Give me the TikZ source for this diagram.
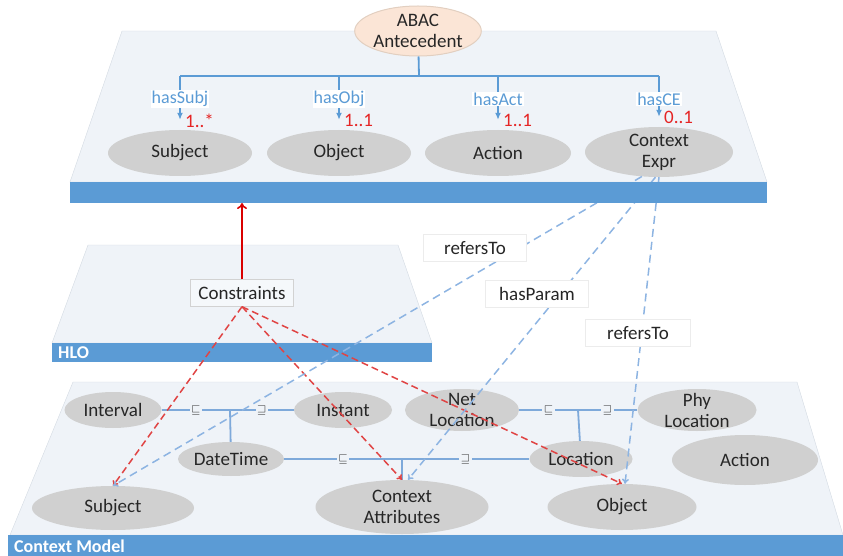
\documentclass[tikz,border=0pt]{standalone}
\usepackage{fontspec}
\setmainfont{Carlito}
\usetikzlibrary{arrows,arrows.meta,positioning,shapes,calc}
\definecolor{platfill}{HTML}{EFF3F8}
\definecolor{platline}{HTML}{D3DAE2}
\definecolor{barblue}{HTML}{5B9BD5}
\definecolor{ellgray}{HTML}{D0D0D0}
\definecolor{abacfill}{HTML}{FBE5D6}
\definecolor{abacline}{HTML}{E2CFC0}
\definecolor{txt}{HTML}{262626}
\definecolor{relblue}{HTML}{7EA9DA}
\definecolor{dashblue}{HTML}{8DB4E2}
\definecolor{multred}{HTML}{E52424}
\definecolor{dashred}{HTML}{E04444}

\begin{document}
\begin{tikzpicture}[x=1pt,y=-1pt,
main node/.style={ellipse,fill=ellgray,inner sep=0pt,text=txt,align=center,font=\fontsize{19}{21}\selectfont},
abac node/.style={main node,fill=abacfill,draw=abacline,line width=1pt},
box node/.style={rectangle,fill=white,draw=gray!15,inner sep=0pt,minimum width=103pt,minimum height=27pt,text=txt,font=\fontsize{19}{21}\selectfont},
has label/.style={fill=white,inner sep=1pt,text=barblue,font=\fontsize{18}{20}\selectfont},
mult label/.style={inner sep=0pt,text=multred,font=\fontsize{19}{20}\selectfont},
bar label/.style={inner sep=0pt,text=white,font=\fontsize{18}{20}\selectfont\bfseries},
sym node/.style={fill=platfill,inner sep=1.5pt,text=txt,font=\fontsize{12}{12}\selectfont},
tree line/.style={draw=barblue,line width=1.8pt},
tree arrow/.style={tree line,-{Latex[length=7pt,width=6pt]},shorten >=10pt},
rel line/.style={draw=relblue,line width=1.8pt},
red dash/.style={draw=dashred,line width=1.5pt,dash pattern=on 7pt off 4pt,-{To[length=5pt,width=7pt]}},
blue dash/.style={draw=dashblue,line width=1.5pt,dash pattern=on 8pt off 5pt,-{To[length=5pt,width=7pt]}}]
\useasboundingbox (0,0) rectangle (843,556);
% platforms
\filldraw[fill=platfill,draw=platline] (122,31) -- (716,31) -- (767,182) -- (70,182) -- cycle;
\filldraw[fill=platfill,draw=platline] (88,245) -- (398,245) -- (432,343) -- (52,343) -- cycle;
\fill[barblue] (52,343) rectangle (432,362);
\filldraw[fill=platfill,draw=platline] (73,382) -- (797,382) -- (843,535) -- (10,535) -- cycle;
\fill[barblue] (8,535) rectangle (843,556);
\node[bar label,anchor=west] (tHLO) at (58,353) {HLO};
\node[bar label,anchor=west] (tCM) at (14,546) {Context Model};

\begin{scope}
% ABAC layer
\node[abac node,minimum width=123pt,minimum height=50pt] (vAbac) at (418,31) {ABAC\\Antecedent};
\node[main node,minimum width=144pt,minimum height=46pt] (vSubj) at (180,153) {Subject};
\node[main node,minimum width=144pt,minimum height=46pt] (vObj) at (339,153) {Object};
\node[main node,minimum width=146pt,minimum height=46pt] (vAct) at (498,153) {Action};
\node[main node,minimum width=148pt,minimum height=50pt,inner ysep=-5pt] (vCE) at (659,152) {Context\\Expr};
% HLO layer
\node[box node,fill=platfill!60!white,draw=gray!35] (vCons) at (242,293) {Constraints};
% context model layer
\node[main node,minimum width=97pt,minimum height=36pt] (vInt) at (113,410) {Interval};
\node[main node,minimum width=98pt,minimum height=36pt] (vInst) at (343,410) {Instant};
\node[main node,minimum width=114pt,minimum height=42pt,inner ysep=-6pt] (vNet) at (462,410) {Net\\Location};
\node[main node,minimum width=119pt,minimum height=42pt,inner ysep=-6pt] (vPhy) at (697,410) {Phy\\Location};
\node[main node,minimum width=106pt,minimum height=34pt] (vDT) at (231,459) {DateTime};
\node[main node,minimum width=103pt,minimum height=36pt] (vLoc) at (581,459) {Location};
\node[main node,minimum width=146pt,minimum height=50pt] (vAct2) at (745,460) {Action};
\node[main node,minimum width=162pt,minimum height=44pt] (vSubj2) at (113,508) {Subject};
\node[main node,minimum width=173pt,minimum height=54pt,inner ysep=-6pt] (vCA) at (402,507) {Context\\Attributes};
\node[main node,minimum width=149pt,minimum height=46pt] (vObj2) at (622,507) {Object};
\end{scope}

% antecedent tree
\coordinate (j0) at (419,76);
\draw[tree line] (vAbac) -- (j0);
\draw[tree line] (vSubj |- j0) -- (vCE |- j0);
\foreach \n/\l/\m in {vSubj/hasSubj/1..*,vObj/hasObj/1..1,vAct/hasAct/1..1,vCE/hasCE/0..1}{
  \draw[tree arrow] (\n |- j0) -- (\n);
  \node[has label] (l\n) at ($(\n |- j0)+(0,23)$) {\l};
  \node[mult label,anchor=west] (m\n) at ($(\n.north)+(5,-9)$) {\m};
}

% subsumption links
\coordinate (j1) at (230,410);
\coordinate (j2) at (402,459);
\coordinate (j3) at (578,410);
\begin{scope}[every node/.style={sym node}]
\draw[rel line] (vInt) -- node{$\sqsubseteq$} (j1) -- node{$\sqsupseteq$} (vInst);
\draw[rel line] (j1) -- (vDT);
\draw[rel line] (vDT) -- node{$\sqsubseteq$} (j2) -- node{$\sqsupseteq$} (vLoc);
\draw[rel line] (j2) -- (vCA);
\draw[rel line] (vNet) -- node{$\sqsubseteq$} (j3) -- node{$\sqsupseteq$} (vPhy);
\draw[rel line] (j3) -- (vLoc);
\end{scope}

% constraints
\coordinate (barTop) at (vCons |- 0,203);
\draw[draw=red!85!black,line width=1.6pt,-{To[length=6pt,width=10pt]}] (vCons) -- (barTop);
\draw[red dash] (vCons.south) -- (vSubj2.north);
\draw[red dash] (vCons.south) -- (vCA.north);
\draw[red dash] (vCons.south) -- (vObj2.north);

% context expression links (run behind the bar)
\draw[blue dash] (vCE.235) -- (vSubj2.north);
\draw[blue dash] (vCE.262) -- ($(vCA.north)+(6,0)$);
\draw[blue dash] (vCE.south) -- ($(vObj2.north)+(3,0)$);
\fill[barblue] (70,182) rectangle (767,203);
\node[box node] (vRef1) at (475,248) {refersTo};
\node[box node] (vPar) at (537,294) {hasParam};
\node[box node,minimum width=105pt] (vRef2) at (638,333) {refersTo};
\end{tikzpicture}
\end{document}
